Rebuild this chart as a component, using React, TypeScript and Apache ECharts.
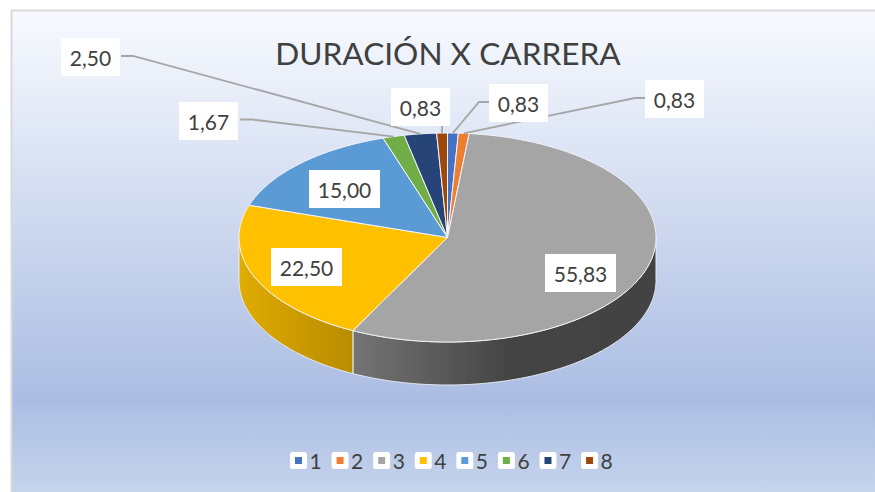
import React, { useEffect, useRef } from "react";
import * as echarts from "echarts";

const TITLE = "DURACIÓN X CARRERA";
const CATEGORIES = ["1", "2", "3", "4", "5", "6", "7", "8"];
const VALUES = [0.83, 0.83, 55.83, 22.5, 15.0, 1.67, 2.5, 0.83];
const VALUE_LABELS = ["0,83", "0,83", "55,83", "22,50", "15,00", "1,67", "2,50", "0,83"];
const COLORS = ["#4472c4", "#ed7d31", "#a5a5a5", "#ffc000", "#5b9bd5", "#70ad47", "#264478", "#9e480e"];

// Layout of the tilted pie
const CX = 447.5;
const CY = 237.5;
const RX = 208.5;
const RY = 104.5;
const DEPTH = 43;

// Label box [left, top, right, bottom] for each slice, and leader bend x,y (or null for none)
const LABEL_BOXES = [
  [489, 84, 548, 122],
  [645, 80, 704, 118],
  [545, 254, 616, 292],
  [271, 248, 342, 286],
  [309, 170, 380, 208],
  [179, 102, 238, 140],
  [61, 38, 120, 76],
  [391, 88, 450, 126],
];
const LEADERS: (number[][] | null)[] = [
  [[489, 102], [479, 102]],
  [[645, 98], [635, 98]],
  null,
  null,
  null,
  [[240, 119.5], [252, 119.5]],
  [[121, 56], [133, 56]],
  [[442, 126]],
];

const WALLS: Record<number, [number, string][]> = {
  2: [[0, "#747474"], [0.52, "#444444"], [1, "#434343"]],
  3: [[0, "#e0ac00"], [1, "#b98b00"]],
};

const TOTAL = VALUES.reduce((a, b) => a + b, 0);
const rad = (d: number) => (d * Math.PI) / 180;
const rim = (deg: number, dy = 0) => [CX + RX * Math.sin(rad(deg)), CY - RY * Math.cos(rad(deg)) + dy];

function arc(a: number, b: number, dy = 0) {
  const pts: number[][] = [];
  const n = Math.max(2, Math.ceil(Math.abs(b - a) * 2));
  for (let i = 0; i <= n; i++) pts.push(rim(a + ((b - a) * i) / n, dy));
  return pts;
}

function sliceRenderer(index: number) {
  return (_params: any, api: any) => {
    const before = VALUES.slice(0, index).reduce((s, v) => s + v, 0);
    const a = (before / TOTAL) * 360;
    const b = ((before + api.value(0)) / TOTAL) * 360;
    const children: any[] = [];

    const wa = Math.max(a, 90);
    const wb = Math.min(b, 270);
    if (wb > wa) {
      const stops = WALLS[index] || [[0, COLORS[index]], [1, COLORS[index]]];
      children.push({
        type: "polygon",
        z2: 1,
        shape: { points: [...arc(wa, wb), ...arc(wb, wa, DEPTH)] },
        style: {
          fill: new echarts.graphic.LinearGradient(
            0, 0, 1, 0,
            stops.map(([offset, color]) => ({ offset, color }))
          ),
          stroke: "#e9edf5",
          lineWidth: 1,
        },
      });
    }

    children.push({
      type: "polygon",
      z2: 2,
      shape: { points: [[CX, CY], ...arc(a, b)] },
      style: { fill: COLORS[index], stroke: "#f4f6fa", lineWidth: 1 },
    });

    const leader = LEADERS[index];
    if (leader) {
      const mid = rim((a + b) / 2);
      children.push({
        type: "polyline",
        z2: 3,
        shape: { points: [...leader, mid] },
        style: { fill: null, stroke: "#a6a6a6", lineWidth: 1.8 },
      });
    }

    const [l, t, r, bt] = LABEL_BOXES[index];
    children.push({
      type: "rect",
      z2: 4,
      shape: { x: l, y: t, width: r - l, height: bt - t },
      style: { fill: "#ffffff" },
    });
    children.push({
      type: "text",
      z2: 5,
      style: {
        x: (l + r) / 2,
        y: (t + bt) / 2,
        text: VALUE_LABELS[index],
        align: "center",
        verticalAlign: "middle",
        fill: "#404040",
        font: '21px Lato',
      },
    });
    return { type: "group", children };
  };
}

export default function App() {
  const ref = useRef<HTMLDivElement>(null);
  useEffect(() => {
    document.body.style.margin = "0";
    const chart = echarts.init(ref.current!, null, { renderer: "svg" });
    chart.setOption({
      animation: false,
      backgroundColor: "#ffffff",
      graphic: [
        {
          type: "rect",
          z: -10,
          silent: true,
          shape: { x: 11.5, y: 10.5, width: 880, height: 500 },
          style: {
            fill: new echarts.graphic.LinearGradient(0, 0, 0, 1, [
              { offset: 0, color: "#f8fafe" },
              { offset: 0.78, color: "#abbde3" },
              { offset: 0.962, color: "#c5d3eb" },
              { offset: 1, color: "#c9d6ed" },
            ]),
            stroke: "#d9d9d9",
            lineWidth: 2,
          },
        },
      ],
      title: {
        text: TITLE,
        left: 443,
        top: 32,
        textAlign: "center",
        textStyle: { fontFamily: "Lato", fontWeight: "normal", fontSize: 31.6, color: "#404040" },
      },
      legend: {
        data: CATEGORIES,
        left: 285,
        top: 445,
        itemWidth: 12,
        itemHeight: 12,
        itemGap: 9.9,
        icon: "rect",
        selectedMode: false,
        itemStyle: { borderColor: "#ffffff", borderWidth: 5, borderJoin: "round" },
        textStyle: { fontFamily: "Lato", fontSize: 21, color: "#404040" },
      },
      series: CATEGORIES.map((name, i) => ({
        type: "custom",
        name,
        coordinateSystem: "none",
        itemStyle: { color: COLORS[i] },
        data: [[VALUES[i]]],
        renderItem: sliceRenderer(i),
      })),
    });
    return () => chart.dispose();
  }, []);
  return <div ref={ref} style={{ position: "absolute", left: 0, top: 0, width: 875, height: 492, overflow: "hidden" }} />;
}
